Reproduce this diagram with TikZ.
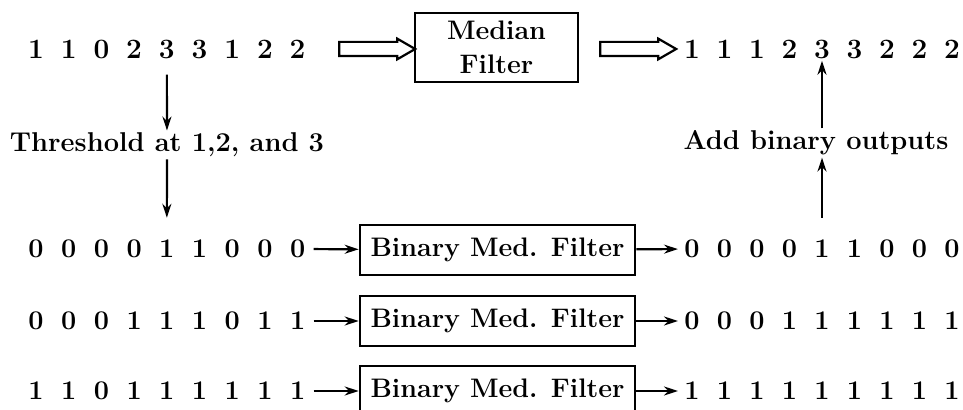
\documentclass[tikz,border=0pt]{standalone}
\usetikzlibrary{arrows.meta,shapes.arrows,positioning}
\tikzset{
  digit/.style={font=\fontsize{14}{16}\selectfont\bfseries, inner sep=1pt},
  smalldigit/.style={font=\fontsize{13.5}{16}\selectfont\bfseries, inner sep=1pt},
  caption/.style={font=\fontsize{13.6}{16}\selectfont\bfseries, inner sep=1pt},
  filterbox/.style={draw, line width=1.3pt, font=\fontsize{13.4}{16}\selectfont\bfseries,
    minimum width=137.5pt, minimum height=25pt},
  hollowarrow/.style={single arrow, draw, line width=1.1pt, inner xsep=0pt, inner ysep=3pt,
    minimum height=38pt, single arrow head extend=1.6pt, single arrow tip angle=60},
  conn/.style={line width=1.1pt, -{Stealth[length=7pt,width=4.5pt]}}
}
\begin{document}
\begin{tikzpicture}[x=0.5pt,y=-0.5pt]
  \clip (0,0) rectangle (963,410);
  \fill[white] (0,0) rectangle (963,410);
  % input and output sequences of the median filter
  \foreach \d [count=\i] in {1,1,0,2,3,3,1,2,2}
    \node[digit] (t\i) at ({36+32.7*(\i-1)},49) {\d};
  \foreach \d [count=\i] in {1,1,1,2,3,3,2,2,2}
    \node[digit] (o\i) at ({692+32.5*(\i-1)},49) {\d};
  \node[draw, line width=1.3pt, font=\fontsize{13.4}{17}\selectfont\bfseries, align=center,
    minimum width=81.5pt, minimum height=34.5pt] (med) at (496.5,47.5) {Median\\Filter};
  \node[hollowarrow] (in) at (371,49) {};
  \node[hollowarrow] (out) at (632,49) {};
  % thresholded rows
  \foreach \d [count=\i] in {0,0,0,0,1,1,0,0,0}
    \node[smalldigit] (a\i) at ({36+32.7*(\i-1)},249) {\d};
  \foreach \d [count=\i] in {0,0,0,1,1,1,0,1,1}
    \node[smalldigit] (b\i) at ({36+32.7*(\i-1)},321) {\d};
  \foreach \d [count=\i] in {1,1,0,1,1,1,1,1,1}
    \node[smalldigit] (c\i) at ({36+32.7*(\i-1)},391) {\d};
  \foreach \d [count=\i] in {0,0,0,0,1,1,0,0,0}
    \node[smalldigit] (ra\i) at ({692+32.5*(\i-1)},249) {\d};
  \foreach \d [count=\i] in {0,0,0,1,1,1,1,1,1}
    \node[smalldigit] (rb\i) at ({692+32.5*(\i-1)},321) {\d};
  \foreach \d [count=\i] in {1,1,1,1,1,1,1,1,1}
    \node[smalldigit] (rc\i) at ({692+32.5*(\i-1)},391) {\d};
  \node[filterbox] (fa) at (497.5,250) {Binary Med. Filter};
  \node[filterbox] (fb) at (497.5,321) {Binary Med. Filter};
  \node[filterbox] (fc) at (497.5,391) {Binary Med. Filter};
  \node[caption] (thr) at (167,145) {Threshold at 1,2, and 3};
  \node[caption] (add) at (816,143) {Add binary outputs};
  % connectors
  \draw[conn, shorten <=7pt] (t5) -- (thr);
  \draw[conn, shorten >=10pt] (thr) -- (a5);
  \draw[conn] (o5 |- add.north) -- (o5);
  \draw[conn, shorten <=10pt] (ra5) -- (ra5 |- add.south);
  \draw[conn, shorten <=3pt] (a9) -- (fa);
  \draw[conn, shorten <=3pt] (b9) -- (fb);
  \draw[conn, shorten <=3pt] (c9) -- (fc);
  \draw[conn, shorten >=2pt] (fa) -- (ra1);
  \draw[conn, shorten >=2pt] (fb) -- (rb1);
  \draw[conn, shorten >=2pt] (fc) -- (rc1);
\end{tikzpicture}
\end{document}
